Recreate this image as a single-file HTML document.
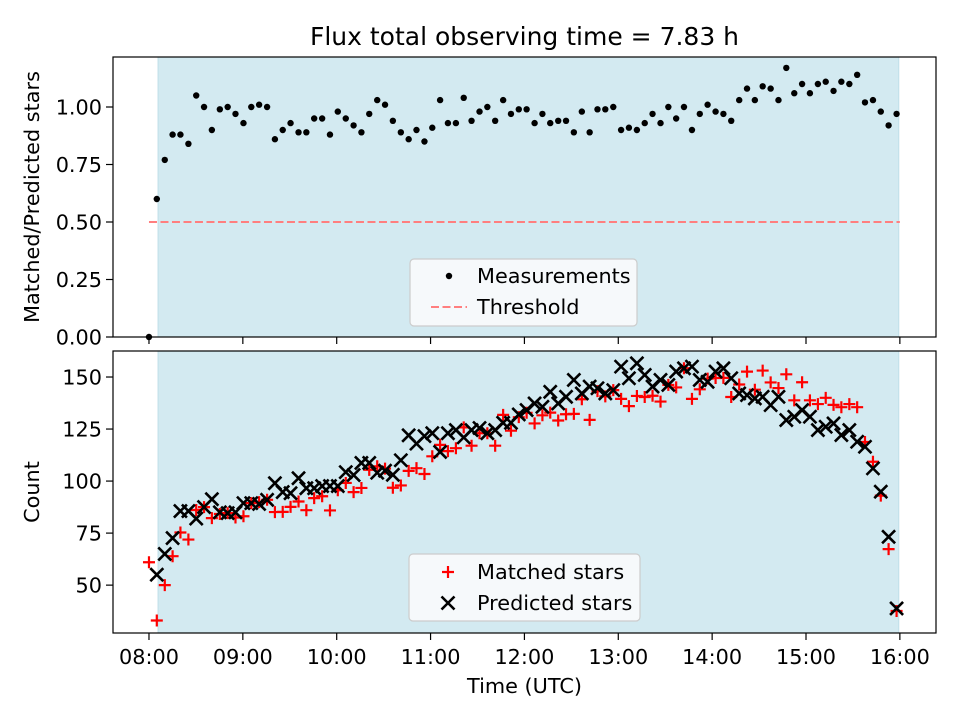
<!DOCTYPE html>
<html><head><meta charset="utf-8"><style>
html,body{margin:0;padding:0;background:#fff;}
svg{display:block;font-family:"DejaVu Sans","Liberation Sans",sans-serif;}
</style></head><body>
<svg id="fig" width="960" height="720" viewBox="0 0 960 720" xmlns="http://www.w3.org/2000/svg">
<rect width="960" height="720" fill="#fff"/>
<text x="524.5" y="45" text-anchor="middle" font-size="25">Flux total observing time = 7.83 h</text>
<g id="top"></g><g id="bot"></g>
</svg>
<script>
const times=[0,5,10.1,15.1,20.1,25.2,30.2,35.2,40.2,45.3,50.3,55.3,60.4,65.4,70.4,75.5,80.5,85.5,90.5,95.6,100.6,105.6,110.7,115.7,120.7,125.8,130.8,135.8,140.8,145.9,150.9,155.9,161,166,171,176.1,181.1,186.1,191.1,196.2,201.2,206.2,211.3,216.3,221.3,226.4,231.4,236.4,241.4,246.5,251.5,256.5,261.6,266.6,271.6,276.7,281.7,286.7,291.7,296.8,301.8,306.8,311.9,316.9,321.9,327,332,337,342,347.1,352.1,357.1,362.2,367.2,372.2,377.3,382.3,387.3,392.3,397.4,402.4,407.4,412.5,417.5,422.5,427.6,432.6,437.6,442.6,447.7,452.7,457.7,462.8,467.8,472.8,477.9];
const ratio=[0,0.60,0.77,0.88,0.88,0.84,1.05,1.00,0.90,0.99,1.00,0.97,0.93,1.00,1.01,1.00,0.86,0.90,0.93,0.89,0.89,0.95,0.95,0.88,0.98,0.95,0.92,0.89,0.97,1.03,1.01,0.94,0.89,0.86,0.90,0.85,0.91,1.03,0.93,0.93,1.04,0.94,0.98,1.00,0.94,1.03,0.97,0.99,0.99,0.93,0.97,0.93,0.94,0.94,0.89,0.98,0.89,0.99,0.99,1.00,0.90,0.91,0.90,0.93,0.97,0.93,1.00,0.95,1.00,0.90,0.97,1.01,0.98,0.97,0.94,1.03,1.08,1.03,1.09,1.08,1.03,1.17,1.06,1.10,1.06,1.10,1.11,1.07,1.11,1.10,1.14,1.02,1.03,0.98,0.92,0.97];
const predicted=[null,55,65,72.6,85.6,85.6,82,87.5,91.3,85,84.6,85,89.4,89.4,89,91,99,94.7,94.2,101.4,96.6,96.6,97.6,97.6,97.6,104.3,102.9,108.7,108.7,104,105,103,110,122,118,121.6,123,114,123,124.5,121,124.5,125.5,123,124.5,128,128,132,134.1,137.3,135.7,142.9,137.3,140.5,148.6,142.1,145.4,144.6,142.1,143.7,155,149.4,156.6,151,145.4,148.6,146.2,152.6,154.2,155,148.6,147.7,152.6,154.2,149.4,142.1,141.3,139.7,140.5,136.5,140.5,129.3,130.9,134.1,130.9,124.5,126.1,127.7,122.1,124.5,118.9,116.5,106.1,94.9,73.2,38.8];
const matched=[61,33,50,63.9,75.3,71.9,86.1,87.5,82.2,84.2,84.6,82.5,83.1,89.4,89.9,91,85.1,85.2,87.6,90.2,86,91.8,92.7,85.9,95.6,99.1,94.7,96.7,105.4,107.1,106,96.8,97.9,104.9,106.2,103.4,111.9,117.4,114.4,115.8,125.8,117,123,123,117,131.8,124.2,130.7,132.8,127.7,131.6,132.9,129.1,132.1,132.3,139.3,129.4,143.2,140.7,143.7,139.5,136,140.9,140.4,141,138.2,146.2,145,154.2,139.5,144.1,149.2,149.5,149.6,140.4,146.4,152.6,143.9,153.1,147.4,144.7,151.3,138.8,147.5,138.8,137,140,136.6,135.5,137,135.5,118.8,109.3,93,67.3,37.6];
const xTickLabels=["08:00","09:00","10:00","11:00","12:00","13:00","14:00","15:00","16:00"];
const xTickMinutes=[0,60,120,180,240,300,360,420,480];
const topYTicks=[0,0.25,0.5,0.75,1.0];
const botYTicks=[50,75,100,125,150];
const threshold=0.5;
const shadeStart=5.8, shadeEnd=479.3;

const NS="http://www.w3.org/2000/svg";
function mk(tag,attrs,parent){const e=document.createElementNS(NS,tag);for(const k in attrs)e.setAttribute(k,attrs[k]);parent.appendChild(e);return e;}
const X0=113,X1=936;
const xMin=-23,xMax=503.1;
const xs=t=>X0+(t-xMin)/(xMax-xMin)*(X1-X0);

function axes(g,top,bottom,yMin,yMax,yTicks,yFmt,label,name,labelX){
  const ys=v=>bottom-(v-yMin)/(yMax-yMin)*(bottom-top);
  const bg=mk('rect',{x:xs(shadeStart),y:top,width:xs(shadeEnd)-xs(shadeStart),height:bottom-top,fill:'#d3eaf1',stroke:'#bfdfe9','stroke-width':1},g);
  
  
  xTickMinutes.forEach((m,i)=>{
    const t=mk('line',{x1:xs(m),x2:xs(m),y1:bottom,y2:bottom+7,stroke:'#000','stroke-width':1.2},g);
    
    
  });
  yTicks.forEach(v=>{
    const t=mk('line',{x1:X0-7,x2:X0,y1:ys(v),y2:ys(v),stroke:'#000','stroke-width':1.2},g);
    
    
    const l=mk('text',{x:X0-11,y:ys(v)+7.5,'text-anchor':'end','font-size':20.8},g);
    l.textContent=yFmt(v);
    
    
  });
  const yl=mk('text',{x:labelX,y:(top+bottom)/2,'text-anchor':'middle','font-size':20.8,transform:`rotate(-90 ${labelX} ${(top+bottom)/2})`},g);
  yl.textContent=label;
  
  
  return ys;
}
function frame(g,top,bottom,name){
  const f=mk('rect',{x:X0,y:top,width:X1-X0,height:bottom-top,fill:'none',stroke:'#000','stroke-width':1.2},g);
  
  
}

const gt=document.getElementById('top');
const ysT=axes(gt,57,337,0,1.2174,topYTicks,v=>v.toFixed(2),'Matched/Predicted stars','ratio-panel',39);
const th=mk('line',{x1:xs(0),x2:xs(480),y1:ysT(threshold),y2:ysT(threshold),stroke:'#ff7f7f','stroke-width':2,'stroke-dasharray':'8,3.5'},gt);


ratio.forEach((v,i)=>{
  const c=mk('circle',{cx:xs(times[i]),cy:ysT(v),r:3.2,fill:'#000'},gt);
  
  
});
frame(gt,57,337,'ratio-panel');

const gb=document.getElementById('bot');
const ysB=axes(gb,351,633,27,162.5,botYTicks,v=>String(v),'Count','count-panel',39);
function plus(g,cx,cy){const p=mk('path',{d:`M${cx-6},${cy}H${cx+6}M${cx},${cy-6}V${cy+6}`,stroke:'#ff0000','stroke-width':2.2,fill:'none'},g);return p;}
function cross(g,cx,cy){const p=mk('path',{d:`M${cx-6.5},${cy-6.5}L${cx+6.5},${cy+6.5}M${cx-6.5},${cy+6.5}L${cx+6.5},${cy-6.5}`,stroke:'#000','stroke-width':2.6,fill:'none'},g);return p;}
matched.forEach((v,i)=>{
  const p=plus(gb,xs(times[i]),ysB(v));
  
  
});
predicted.forEach((v,i)=>{
  if(v===null)return;
  const p=cross(gb,xs(times[i]),ysB(v));
  
  
});
frame(gb,351,633,'count-panel');
xTickMinutes.forEach((m,i)=>{
  const l=mk('text',{x:xs(m),y:664,'text-anchor':'middle','font-size':20.8},gb);
  l.textContent=xTickLabels[i];
  
  
});
const xl=mk('text',{x:524.5,y:693,'text-anchor':'middle','font-size':20.8},gb);
xl.textContent='Time (UTC)';



function legend(g,x,y,w,h,name){
  const r=mk('rect',{x:x,y:y,width:w,height:h,rx:4,fill:'#f6f9fb',stroke:'#cccccc','stroke-width':1.2},g);
  
  
}
legend(gt,410,259,227,67,'ratio-legend');
const lm=mk('circle',{cx:449,cy:276,r:3.2,fill:'#000'},gt);


const lt1=mk('text',{x:477,y:283,'font-size':20.8},gt);lt1.textContent='Measurements';


const ll=mk('line',{x1:431,x2:467,y1:307,y2:307,stroke:'#ff7f7f','stroke-width':2,'stroke-dasharray':'8,3.5'},gt);


const lt2=mk('text',{x:477,y:314,'font-size':20.8},gt);lt2.textContent='Threshold';



legend(gb,409,554,231,67,'count-legend');
const lp=plus(gb,448,572);


const lt3=mk('text',{x:477,y:579,'font-size':20.8},gb);lt3.textContent='Matched stars';


const lc=cross(gb,448,603);


const lt4=mk('text',{x:477,y:610,'font-size':20.8},gb);lt4.textContent='Predicted stars';


</script>
</body></html>
